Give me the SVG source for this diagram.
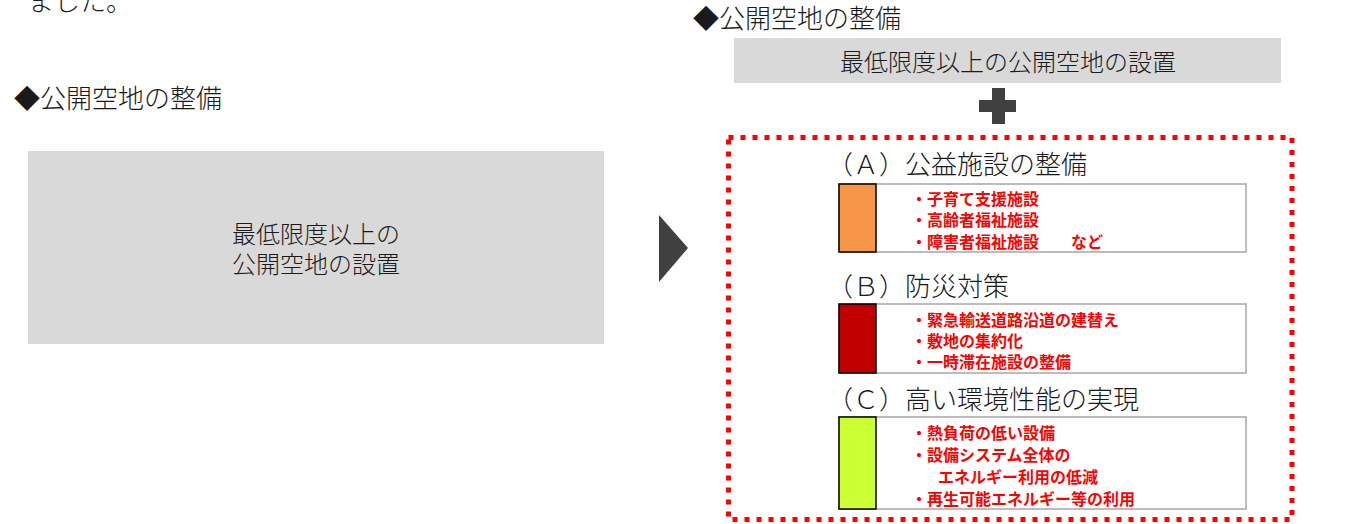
<svg xmlns="http://www.w3.org/2000/svg" width="1348" height="524" viewBox="0 0 1348 524">
<style>
.t{font-family:"Noto Sans CJK JP","Noto Sans",sans-serif;fill:#1a1a1a;font-weight:300}
.h{font-size:26px}
.m{font-size:24px}
.r{font-family:"Noto Sans CJK JP","Noto Sans",sans-serif;font-size:16px;font-weight:bold;fill:#ff0000}
.gray{fill:#d9d9d9}
.wbox{fill:#ffffff;stroke:#a6a6a6;stroke-width:1.5}
.cbox{stroke:#000000;stroke-width:1.5}
.dark{fill:#404040}
</style>
<rect width="1348" height="524" fill="#ffffff"/>
<g id="intro-text">
<text class="t h" x="28" y="11">ました。</text>
</g>
<g id="left-heading">
<text class="t h" x="14" y="108">◆公開空地の整備</text>
</g>
<g id="left-box">
<rect class="gray" x="28" y="151" width="576" height="193"/>
<text class="t m" x="316" y="243" text-anchor="middle">最低限度以上の</text>
<text class="t m" x="316" y="273" text-anchor="middle">公開空地の設置</text>
</g>
<g id="connectors">
<polygon class="dark" points="659,215 688,248 659,282"/>
</g>
<g id="right-heading">
<text class="t h" x="693" y="28">◆公開空地の整備</text>
</g>
<g id="right-top-box">
<rect class="gray" x="734" y="38" width="547" height="45"/>
<text class="t m" x="1008" y="71" text-anchor="middle">最低限度以上の公開空地の設置</text>
</g>
<g id="plus">
<rect class="dark" x="979" y="100" width="37" height="12"/>
<rect class="dark" x="992" y="88" width="13" height="36"/>
</g>
<g id="dotted-frame">
<rect x="728.5" y="137.5" width="563.5" height="382" fill="none" stroke="#ff0000" stroke-width="5" stroke-dasharray="5 7"/>
</g>
<g id="section-a">
<text class="t h" x="827" y="174">（Ａ）公益施設の整備</text>
<rect class="wbox" x="839" y="184" width="407" height="68"/>
<rect class="cbox" x="839" y="184" width="37" height="68" fill="#f79646"/>
<text class="r" x="911" y="205">・子育て支援施設</text>
<text class="r" x="911" y="226">・高齢者福祉施設</text>
<text class="r" x="911" y="248">・障害者福祉施設　　など</text>
</g>
<g id="section-b">
<text class="t h" x="827" y="296">（Ｂ）防災対策</text>
<rect class="wbox" x="839" y="304" width="407" height="69"/>
<rect class="cbox" x="839" y="304" width="37" height="69" fill="#c00000"/>
<text class="r" x="911" y="326">・緊急輸送道路沿道の建替え</text>
<text class="r" x="911" y="347">・敷地の集約化</text>
<text class="r" x="911" y="368">・一時滞在施設の整備</text>
</g>
<g id="section-c">
<text class="t h" x="827" y="409">（Ｃ）高い環境性能の実現</text>
<rect class="wbox" x="839" y="417" width="407" height="92"/>
<rect class="cbox" x="839" y="417" width="37" height="92" fill="#ccff33"/>
<text class="r" x="911" y="439">・熱負荷の低い設備</text>
<text class="r" x="911" y="461">・設備システム全体の</text>
<text class="r" x="938" y="483">エネルギー利用の低減</text>
<text class="r" x="911" y="505">・再生可能エネルギー等の利用</text>
</g>
</svg>
